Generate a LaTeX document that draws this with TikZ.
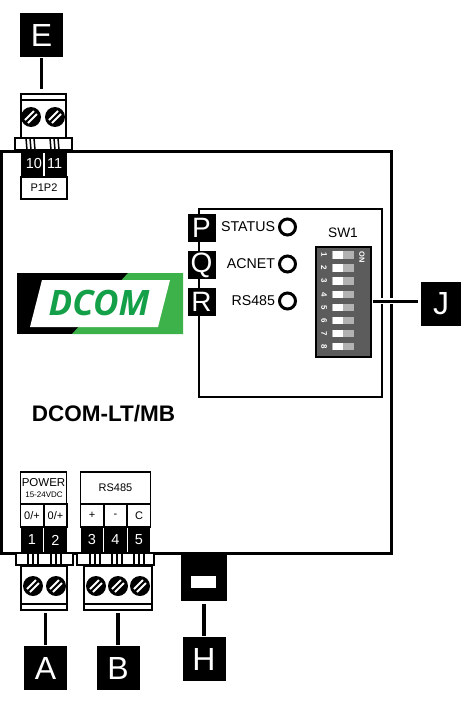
\documentclass[tikz,border=0pt]{standalone}
\usepackage{fontspec}
\setmainfont{Liberation Sans}
\newfontfamily\logofont{Open Sans}
\usepackage{xcolor}
\usepackage{tikz}
\definecolor{logogreen}{RGB}{62, 178, 74}
\definecolor{textgreen}{RGB}{20, 160, 72}
\definecolor{dipgray}{RGB}{92, 92, 92}
\definecolor{slotgray}{RGB}{178, 178, 178}
\newcommand{\fs}[1]{\fontsize{#1}{#1}\selectfont}

\begin{document}
\begin{tikzpicture}[
        x=1pt, y=-1pt,
        every node/.style={align=center, inner sep=0pt, outer sep=0pt},
        tagbox/.style={fill=black, text=white, minimum width=43, minimum height=44, font=\fs{32}},
        ledtag/.style={fill=black, text=white, minimum width=28, minimum height=28, font=\fs{28}},
        leader/.style={line width=3.4pt, shorten <=1pt, shorten >=3pt},
        led/.style={circle, draw=black, line width=3pt, minimum size=16},
        ledtext/.style={anchor=east, font=\fs{14.2}},
        termbody/.style={draw=black, fill=white, line width=2.6pt, minimum height=44},
        termfoot/.style={draw=black, fill=white, line width=2pt, minimum height=12},
        labelbox/.style={draw=black, fill=white, line width=1.8pt, font=\fs{11}},
        numbox/.style={fill=black, text=white, minimum height=26, font=\fs{14.5}},
        cellbox/.style={draw=black, fill=white, line width=1.5pt, minimum height=23, font=\fs{11}},
        screw/.style={circle, fill=black, minimum size=20}
    ]
        \useasboundingbox (0,0) rectangle (465,701);

        % Housing
        \node[draw=black, line width=3pt, minimum width=390, minimum height=402] (housing) at (196,352) {};
        \node[draw=black, line width=2pt, minimum width=183, minimum height=188] (panel) at (290.5,303) {};
        \node[font=\bfseries\fs{22.5}] (model) at (103.5,414) {DCOM-LT/MB};

        % Logo
        \fill[black] (17,273) rectangle (183,334);
        \fill[logogreen] (128,273) -- (183,273) -- (183,334) -- (72,334) -- cycle;
        \fill[white] (42,280) -- (170,280) -- (158,327) -- (30,327) -- cycle;
        \node[text=textgreen, font=\logofont\bfseries\itshape\fs{35}] (logo) at (99,303) {DCOM};

        % Top terminal
        \node[termfoot, minimum width=57] (footE) at (43,144) {};
        \node[termbody, minimum width=45] (termE) at (43.5,116) {};
        \draw[line width=2.6pt] (termE.north west) ++(0,6) -- ++(45,0);
        \node[numbox, minimum width=46] (numE) at (44,164) {10\hspace{5pt}11};
        \draw[white, line width=1.2pt] (44,153) -- (44,176);
        \node[labelbox, minimum width=46, minimum height=22] (pE) at (44,188) {P1P2};
        \node[screw] (s10) at (31,117) {};
        \node[screw] (s11) at (55,117) {};

        % Bottom terminals
        \node[termfoot, minimum width=57] (footA) at (44.5,559) {};
        \node[termbody, minimum width=46] (termA) at (44,588) {};
        \draw[line width=2.6pt] (termA.south west) ++(0,-6) -- ++(46,0);
        \node[screw] (s1) at (33,586) {};
        \node[screw] (s2) at (56,586) {};
        \node[termfoot, minimum width=77] (footB) at (115,559) {};
        \node[termbody, minimum width=68] (termB) at (118,588) {};
        \draw[line width=2.6pt] (termB.south west) ++(0,-6) -- ++(68,0);
        \node[screw] (s3) at (96,586) {};
        \node[screw] (s4) at (118,586) {};
        \node[screw] (s5) at (140,586) {};

        % Screw slots and pins
        \foreach \sx/\sy in {31/117, 55/117, 33/586, 56/586, 96/586, 118/586, 140/586}{
            \draw[white, line width=2pt] (\sx-6,\sy+3) -- (\sx+3,\sy-6);
            \draw[white, line width=2pt] (\sx-3,\sy+6) -- (\sx+6,\sy-3);
        }
        \foreach \px in {26,30,34,50,54,58}
            \draw[line width=1.5pt] (\px,138) -- (\px+1,150);
        \foreach \px in {28,33,38,51,56,61,90,95,100,112,117,122,134,139,144}
            \draw[line width=1.5pt] (\px,553) -- (\px,564);

        % Bottom labels
        \node[labelbox, minimum width=46, minimum height=32] (power) at (43.5,488) {};
        \node[font=\fs{11.5}] (powertxt) at (43.5,483) {POWER};
        \node[font=\fs{8}] (volt) at (44,495) {15-24VDC};
        \node[labelbox, minimum width=70, minimum height=32] (rs) at (115.5,488) {RS485};
        \node[cellbox, minimum width=23] (c1) at (32,515.5) {0/+};
        \node[cellbox, minimum width=23] (c2) at (55.5,515.5) {0/+};
        \node[cellbox, minimum width=23] (c3) at (92,515.5) {+};
        \node[cellbox, minimum width=23] (c4) at (115.5,515.5) {-};
        \node[cellbox, minimum width=23] (c5) at (139,515.5) {C};
        \node[numbox, minimum width=22.5] (n1) at (32,540) {1};
        \node[numbox, minimum width=22.5] (n2) at (55.5,540) {2};
        \node[numbox, minimum width=22.5] (n3) at (92,540) {3};
        \node[numbox, minimum width=22.5] (n4) at (115.5,540) {4};
        \node[numbox, minimum width=22.5] (n5) at (139,540) {5};

        % Indicators
        \node[ledtag] (tagP) at (201.5,228) {P};
        \node[ledtag] (tagQ) at (201.5,265) {Q};
        \node[ledtag] (tagR) at (201.5,302) {R};
        \node[led] (ledP) at (287.5,227) {};
        \node[led] (ledQ) at (287.5,264) {};
        \node[led] (ledR) at (287.5,301) {};
        \node[ledtext] (txtP) at (275,227) {STATUS};
        \node[ledtext] (txtQ) at (275,264) {ACNET};
        \node[ledtext] (txtR) at (275,301) {RS485};

        % Switch
        \node[font=\fs{13.7}] (swname) at (343,233) {SW1};
        \node[draw=black, fill=dipgray, line width=2pt, minimum width=55, minimum height=110] (dip) at (343,301.5) {};
        \node[text=white, rotate=-90, font=\bfseries\fs{7.5}] (dipon) at (362,257) {ON};
        \foreach \i in {1,...,8}{
            \pgfmathsetmacro{\dy}{255+(\i-1)*13.1}
            \node[text=white, rotate=-90, font=\bfseries\fs{8}] (dipn\i) at (324,\dy) {\i};
            \node[fill=slotgray, minimum width=22, minimum height=7.5] (slot\i) at (343,\dy) {};
            \node[fill=white, minimum width=10, minimum height=7.5] (knob\i) at (338,\dy) {};
        }

        % Tab
        \node[fill=black, minimum width=46, minimum height=48] (tabH) at (204,577) {};
        \node[fill=white, minimum width=25, minimum height=12] (slotH) at (203.5,582) {};

        % Tags
        \node[tagbox] (tagE) at (41.5,35.5) {E};
        \node[tagbox] (tagA) at (45.5,668) {A};
        \node[tagbox] (tagB) at (118,668) {B};
        \node[tagbox] (tagH) at (204,659) {H};
        \node[tagbox, minimum width=40] (tagJ) at (441,304) {J};

        % Leaders
        \draw[leader, shorten >=5pt] (tagE.south) -- (tagE.south |- termE.north);
        \draw[leader, shorten >=3pt] (tagA.north) -- (tagA.north |- termA.south);
        \draw[leader, shorten >=3pt] (tagB.north) -- (tagB.north |- termB.south);
        \draw[leader, shorten >=3pt] (tagH.north) -- (tabH.south);
        \draw[white, line width=5.5pt] (380,301) -- (405,301);
        \draw[leader, shorten <=3pt, shorten >=2pt] (tagJ.west |- dip.east) -- (dip.east);
    \end{tikzpicture}
\end{document}
